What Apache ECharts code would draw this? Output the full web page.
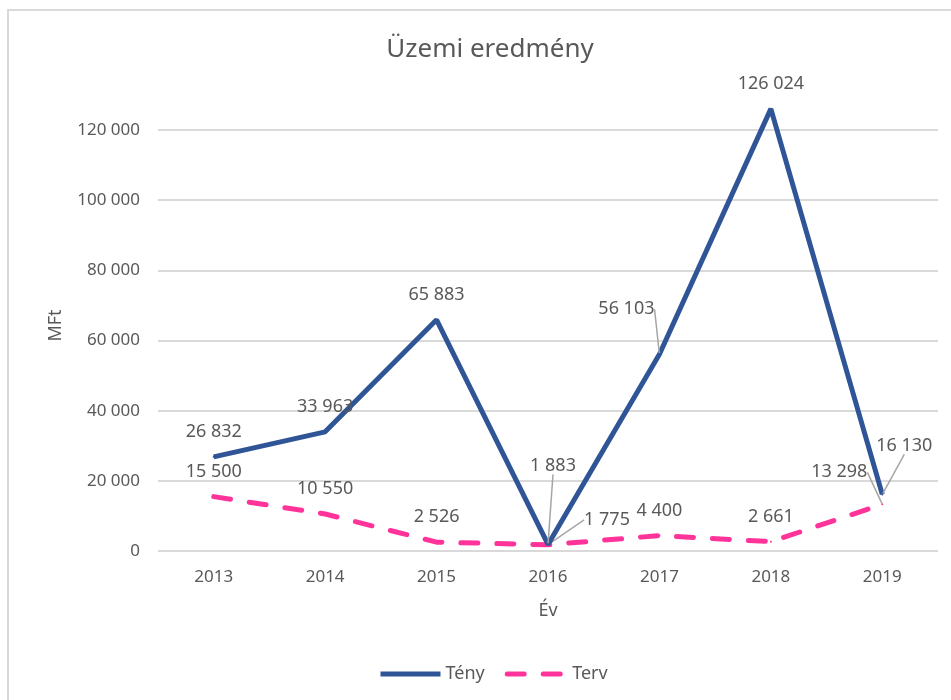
<!DOCTYPE html>
<html>
  <head>
    <meta charset="utf-8" />
    <title>Üzemi eredmény</title>
    <style>
      html, body { margin: 0; padding: 0; background: #fff; }
      #frame {
        position: absolute; left: 7px; top: 9px; width: 960px; height: 700px;
        border-top: 2px solid #d9d9d9; border-left: 2px solid #d9d9d9;
      }
      #main { position: absolute; left: 0; top: 0; width: 951px; height: 700px; }
    </style>
  </head>
  <body>
    <div id="frame"></div>
    <div id="main"></div>
    <script type="text/javascript" src="https://cdn.jsdelivr.net/npm/echarts@6/dist/echarts.min.js"></script>
    <script type="text/javascript">
      var years = ["2013", "2014", "2015", "2016", "2017", "2018", "2019"];
      var teny = [26832, 33963, 65883, 1883, 56103, 126024, 16130];
      var terv = [15500, 10550, 2526, 1775, 4400, 2661, 13298];

      // label shifts (px) for the labels that have a leader line in the original
      var tenyShift = { 3: [5, -54], 4: [-33, -20], 6: [22, -24] };
      var tervShift = { 3: [59, 0], 6: [-43, -7] };

      var grey = "#595959";
      var font = "Noto Sans";

      function fmt(v) {
        return String(v).replace(/\B(?=(\d{3})+(?!\d))/g, " ");
      }

      function makeData(values, shift) {
        return values.map(function (v, i) {
          var item = { value: v };
          if (shift[i]) item.labelLine = { show: true };
          return item;
        });
      }

      function makeLayout(shift) {
        return function (params) {
          var s = shift[params.dataIndex];
          if (!s) return {};
          return { dx: s[0], dy: s[1] };
        };
      }

      var labelStyle = {
        show: true,
        position: "top",
        distance: 15,
        color: grey,
        fontFamily: font,
        fontSize: 18,
        formatter: function (p) {
          return fmt(p.value);
        },
      };

      var myChart = echarts.init(document.getElementById("main"));
      var option = {
        animation: false,
        backgroundColor: "transparent",
        textStyle: { fontFamily: font },
        title: {
          text: "Üzemi eredmény",
          left: 485,
          textAlign: "center",
          top: 32,
          textStyle: {
            color: grey,
            fontFamily: font,
            fontSize: 26,
            fontWeight: "normal",
          },
        },
        grid: {
          left: 158,
          right: 13,
          top: 130,
          height: 421,
        },
        legend: {
          left: 373,
          top: 660,
          itemWidth: 60,
          itemHeight: 16,
          itemGap: 20,
          itemStyle: { opacity: 0 },
          lineStyle: { width: 5 },
          textStyle: { color: grey, fontFamily: font, fontSize: 18 },
          data: ["Tény", "Terv"],
        },
        xAxis: {
          type: "category",
          data: years,
          name: "Év",
          nameLocation: "middle",
          nameGap: 51,
          nameTextStyle: { color: grey, fontFamily: font, fontSize: 18 },
          axisLine: { show: false },
          axisTick: { show: false },
          axisLabel: { color: grey, fontFamily: font, fontSize: 17, margin: 18 },
        },
        yAxis: {
          type: "value",
          min: 0,
          max: 120000,
          interval: 20000,
          name: "MFt",
          nameLocation: "middle",
          nameRotate: 90,
          nameGap: 93,
          nameTextStyle: {
            color: grey,
            fontFamily: font,
            fontSize: 18,
            padding: [0, 0, 0, 30],
          },
          axisLine: { show: false },
          axisTick: { show: false },
          axisLabel: {
            color: grey,
            fontFamily: font,
            fontSize: 17,
            margin: 18,
            formatter: fmt,
          },
          splitLine: { lineStyle: { color: "#d9d9d9", width: 2 } },
        },
        series: [
          {
            name: "Tény",
            type: "line",
            clip: false,
            symbol: "circle",
            symbolSize: 2,
            showSymbol: true,
            itemStyle: { color: "#2f5597" },
            lineStyle: { color: "#2f5597", width: 5 },
            label: labelStyle,
            labelLine: { lineStyle: { color: "#a6a6a6", width: 1.5 } },
            labelLayout: makeLayout(tenyShift),
            data: makeData(teny, tenyShift),
            z: 3,
          },
          {
            name: "Terv",
            type: "line",
            clip: false,
            symbol: "circle",
            symbolSize: 2,
            showSymbol: true,
            itemStyle: { color: "#ff3399" },
            lineStyle: {
              color: "#ff3399",
              width: 5,
              type: [17, 19],
              cap: "round",
            },
            label: labelStyle,
            labelLine: { lineStyle: { color: "#a6a6a6", width: 1.5 } },
            labelLayout: makeLayout(tervShift),
            data: makeData(terv, tervShift),
            z: 2,
          },
        ],
      };
      myChart.setOption(option);
    </script>
  </body>
</html>
